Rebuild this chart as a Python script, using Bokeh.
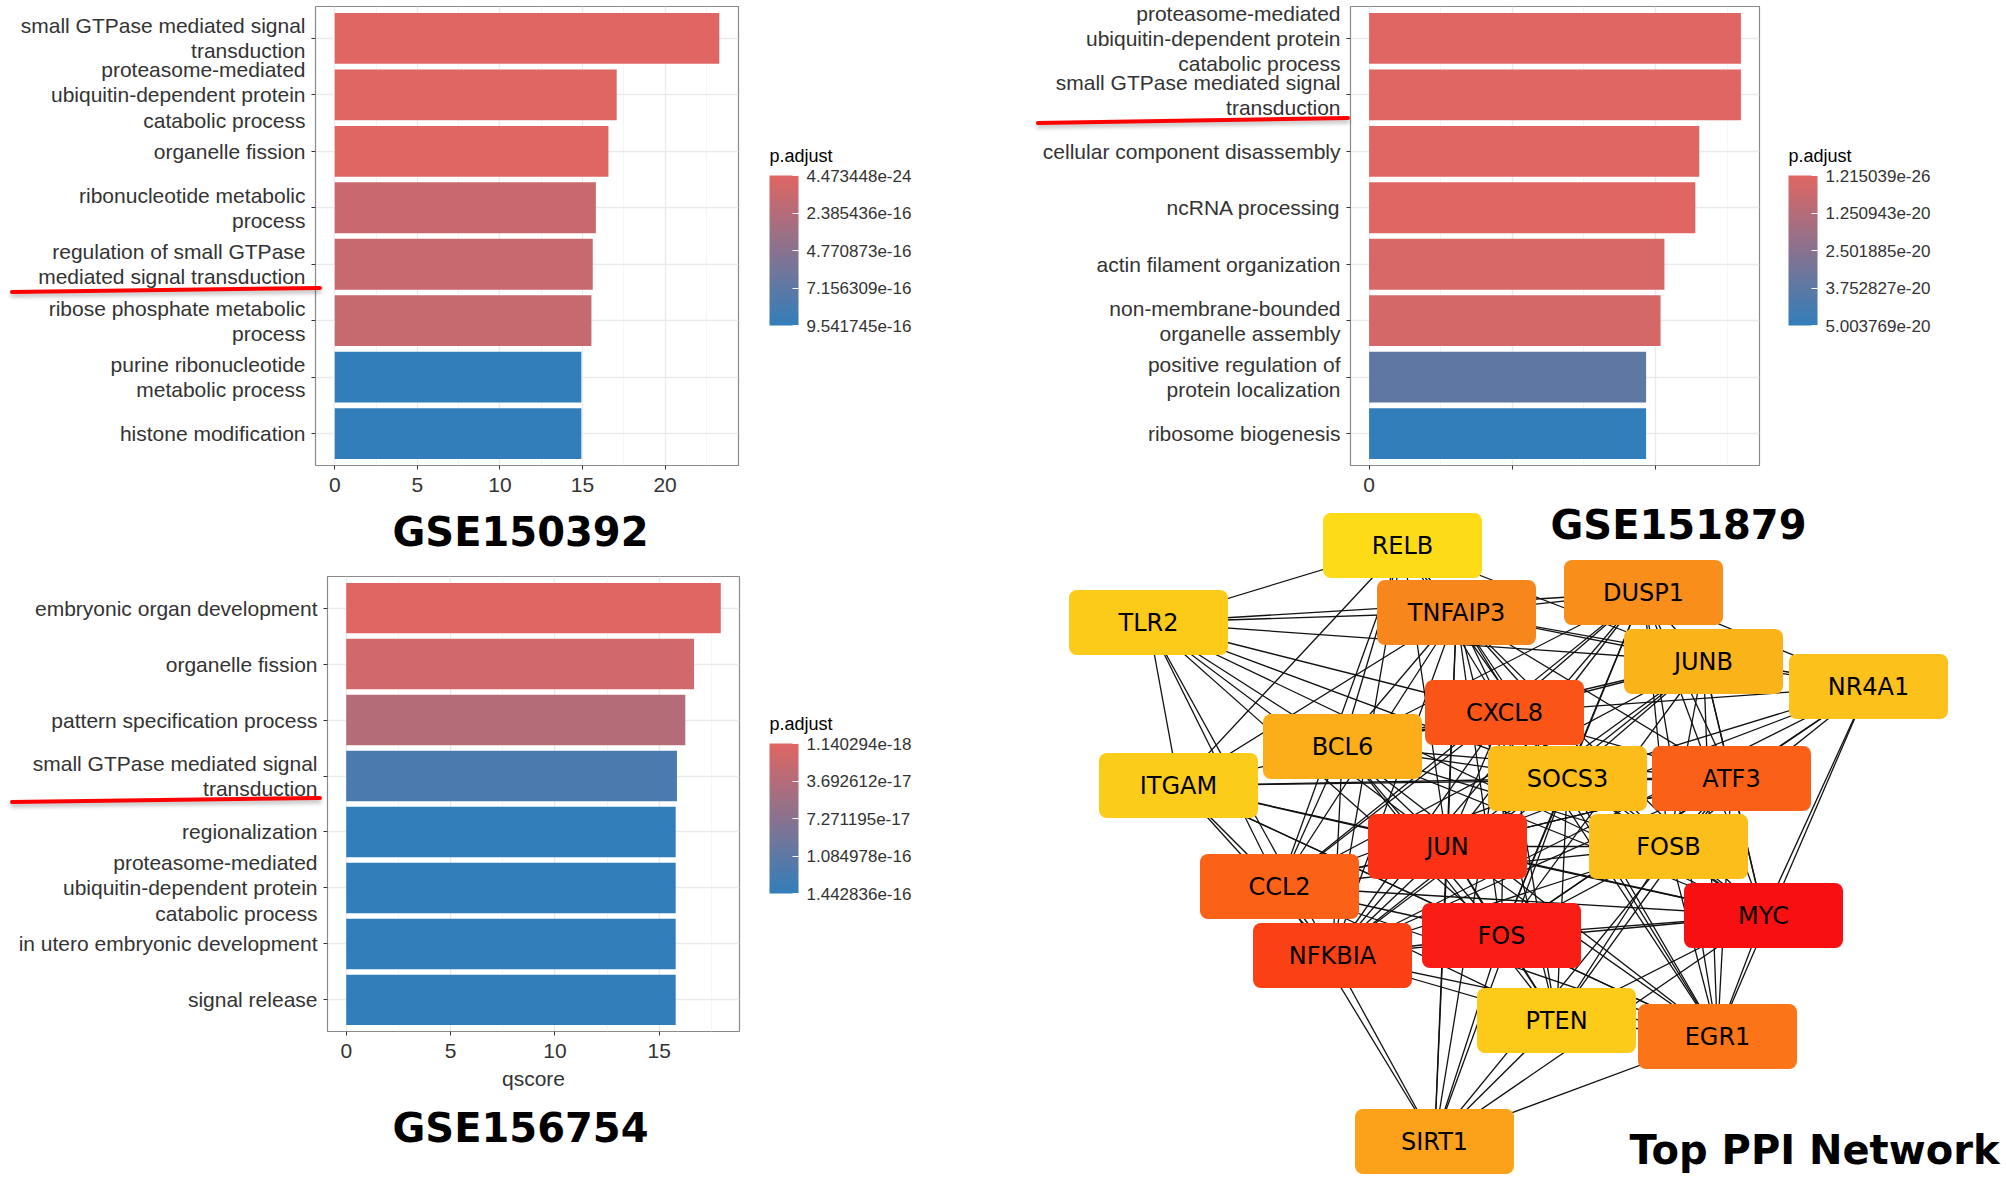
import math
from bokeh.plotting import figure
from bokeh.models import (FactorRange, Range1d, FixedTicker, LinearColorMapper,
                          ColorBar, Title, ColumnDataSource, AllLabels, InlineStyleSheet)
from bokeh.layouts import row, column
from bokeh.transform import transform
from bokeh.core.properties import value
from bokeh.embed import file_html
from bokeh.resources import INLINE

# ---------------- data ----------------
gse150392_terms = [
    "small GTPase mediated signal\ntransduction",
    "proteasome-mediated\nubiquitin-dependent protein\ncatabolic process",
    "organelle fission",
    "ribonucleotide metabolic\nprocess",
    "regulation of small GTPase\nmediated signal transduction",
    "ribose phosphate metabolic\nprocess",
    "purine ribonucleotide\nmetabolic process",
    "histone modification",
]
gse150392_qscore = [23.28, 17.07, 16.57, 15.81, 15.62, 15.54, 14.93, 14.93]
gse150392_padj = [4.473448e-24, 2.0e-20, 5.0e-18, 1.25e-16, 1.35e-16, 1.45e-16,
                  9.541745e-16, 9.541745e-16]
gse150392_legend = ["4.473448e-24", "2.385436e-16", "4.770873e-16",
                    "7.156309e-16", "9.541745e-16"]

gse151879_terms = [
    "proteasome-mediated\nubiquitin-dependent protein\ncatabolic process",
    "small GTPase mediated signal\ntransduction",
    "cellular component disassembly",
    "ncRNA processing",
    "actin filament organization",
    "non-membrane-bounded\norganelle assembly",
    "positive regulation of\nprotein localization",
    "ribosome biogenesis",
]
gse151879_qscore = [25.96, 25.96, 23.05, 22.78, 20.62, 20.35, 19.34, 19.34]
gse151879_padj = [1.215039e-26, 1.0e-24, 5.0e-23, 1.0e-22, 2.5e-21, 3.5e-21,
                  3.7e-20, 5.003769e-20]
gse151879_legend = ["1.215039e-26", "1.250943e-20", "2.501885e-20",
                    "3.752827e-20", "5.003769e-20"]

gse156754_terms = [
    "embryonic organ development",
    "organelle fission",
    "pattern specification process",
    "small GTPase mediated signal\ntransduction",
    "regionalization",
    "proteasome-mediated\nubiquitin-dependent protein\ncatabolic process",
    "in utero embryonic development",
    "signal release",
]
gse156754_qscore = [17.95, 16.67, 16.25, 15.85, 15.79, 15.79, 15.79, 15.79]
gse156754_padj = [1.140294e-18, 1.4e-17, 3.7e-17, 1.24e-16, 1.442836e-16,
                  1.442836e-16, 1.442836e-16, 1.442836e-16]
gse156754_legend = ["1.140294e-18", "3.692612e-17", "7.271195e-17",
                    "1.084978e-16", "1.442836e-16"]

ppi_genes = ["RELB", "TLR2", "TNFAIP3", "DUSP1", "JUNB", "NR4A1", "CXCL8", "BCL6",
             "ITGAM", "SOCS3", "ATF3", "JUN", "FOSB", "CCL2", "MYC", "FOS",
             "NFKBIA", "PTEN", "EGR1", "SIRT1"]
ppi_colors = ["#FDDC17", "#FCCB1A", "#F7871C", "#F98E1A", "#FBB31A", "#FCC11A",
              "#FA5516", "#FBAE1A", "#FCCC1A", "#FCBD1A", "#FB6018", "#FB3215",
              "#FCBE1A", "#FB6218", "#F70F12", "#FA1D15", "#FC4015", "#FCCB1A",
              "#FB7518", "#FCA11A"]
ppi_edges_text = """
RELB-TLR2 RELB-TNFAIP3 RELB-NFKBIA RELB-ITGAM RELB-BCL6 RELB-CXCL8 RELB-JUN RELB-CCL2 RELB-JUNB RELB-SOCS3
TLR2-TNFAIP3 TLR2-DUSP1 TLR2-CXCL8 TLR2-ITGAM TLR2-CCL2 TLR2-NFKBIA TLR2-JUN TLR2-FOS TLR2-SOCS3 TLR2-MYC TLR2-BCL6 TLR2-JUNB
ITGAM-CXCL8 ITGAM-SOCS3 ITGAM-ATF3 ITGAM-JUN ITGAM-FOS ITGAM-CCL2 ITGAM-NFKBIA ITGAM-MYC ITGAM-TNFAIP3 ITGAM-EGR1
TNFAIP3-DUSP1 TNFAIP3-NFKBIA TNFAIP3-CCL2 TNFAIP3-CXCL8 TNFAIP3-JUN TNFAIP3-FOS TNFAIP3-SOCS3 TNFAIP3-ATF3 TNFAIP3-JUNB TNFAIP3-NR4A1 TNFAIP3-EGR1 TNFAIP3-MYC TNFAIP3-BCL6 TNFAIP3-FOSB TNFAIP3-PTEN TNFAIP3-SIRT1
DUSP1-JUNB DUSP1-NR4A1 DUSP1-FOS DUSP1-JUN DUSP1-ATF3 DUSP1-EGR1 DUSP1-MYC DUSP1-CXCL8 DUSP1-SOCS3 DUSP1-FOSB DUSP1-CCL2 DUSP1-NFKBIA DUSP1-BCL6
JUNB-NR4A1 JUNB-FOS JUNB-JUN JUNB-FOSB JUNB-ATF3 JUNB-EGR1 JUNB-MYC JUNB-CXCL8 JUNB-SOCS3 JUNB-CCL2 JUNB-NFKBIA JUNB-BCL6
NR4A1-FOSB NR4A1-ATF3 NR4A1-EGR1 NR4A1-MYC NR4A1-FOS NR4A1-JUN NR4A1-CXCL8 NR4A1-SOCS3 NR4A1-NFKBIA
CXCL8-BCL6 CXCL8-SOCS3 CXCL8-ATF3 CXCL8-JUN CXCL8-FOSB CXCL8-CCL2 CXCL8-MYC CXCL8-FOS CXCL8-NFKBIA CXCL8-PTEN CXCL8-EGR1 CXCL8-SIRT1
BCL6-JUN BCL6-FOS BCL6-MYC BCL6-SOCS3 BCL6-CCL2 BCL6-NFKBIA BCL6-ATF3 BCL6-PTEN BCL6-EGR1 BCL6-FOSB
SOCS3-ATF3 SOCS3-JUN SOCS3-FOSB SOCS3-CCL2 SOCS3-MYC SOCS3-FOS SOCS3-NFKBIA SOCS3-PTEN SOCS3-EGR1 SOCS3-SIRT1
ATF3-JUN ATF3-FOSB ATF3-MYC ATF3-FOS ATF3-CCL2 ATF3-NFKBIA ATF3-EGR1 ATF3-PTEN ATF3-SIRT1
JUN-FOSB JUN-CCL2 JUN-MYC JUN-FOS JUN-NFKBIA JUN-PTEN JUN-EGR1 JUN-SIRT1
FOSB-CCL2 FOSB-MYC FOSB-FOS FOSB-NFKBIA FOSB-EGR1 FOSB-PTEN
CCL2-MYC CCL2-FOS CCL2-NFKBIA CCL2-PTEN CCL2-EGR1 CCL2-SIRT1
MYC-FOS MYC-NFKBIA MYC-PTEN MYC-EGR1 MYC-SIRT1
FOS-NFKBIA FOS-PTEN FOS-EGR1 FOS-SIRT1
NFKBIA-PTEN NFKBIA-EGR1 NFKBIA-SIRT1
PTEN-EGR1 PTEN-SIRT1 EGR1-SIRT1
"""
ppi_edges = [tuple(e.split("-")) for e in ppi_edges_text.split()]

# ---------------- layout / style (not data) ----------------
node_pos = {
    "RELB": (1402, 545), "TLR2": (1148, 622), "TNFAIP3": (1456, 612),
    "DUSP1": (1643, 592), "JUNB": (1703, 661), "NR4A1": (1868, 686),
    "CXCL8": (1504, 712), "BCL6": (1342, 746), "ITGAM": (1178, 785),
    "SOCS3": (1567, 778), "ATF3": (1731, 778), "JUN": (1447, 846),
    "FOSB": (1668, 846), "CCL2": (1279, 886), "MYC": (1763, 915),
    "FOS": (1501, 935), "NFKBIA": (1332, 955), "PTEN": (1556, 1020),
    "EGR1": (1717, 1036), "SIRT1": (1434, 1141),
}
NODE_W, NODE_H = 159, 65

LOW_COLOR, HIGH_COLOR = "#327eba", "#e06663"


def interp_palette(c1, c2, n=256):
    a = [int(c1[i:i + 2], 16) for i in (1, 3, 5)]
    b = [int(c2[i:i + 2], 16) for i in (1, 3, 5)]
    out = []
    for k in range(n):
        t = k / (n - 1)
        out.append("#%02x%02x%02x" % tuple(round(a[j] + (b[j] - a[j]) * t) for j in range(3)))
    return out


PALETTE = interp_palette(LOW_COLOR, HIGH_COLOR)
LABEL_FONT = "Liberation Sans"
TEXT_COL = "#333333"


def underline_css(x0, y0, x1, y1):
    w = math.hypot(x1 - x0, y1 - y0)
    ang = math.degrees(math.atan2(y1 - y0, x1 - x0))
    return InlineStyleSheet(css=(
        ":host { position: relative; }\n"
        ":host::after { content: ''; position: absolute; "
        f"left: {x0}px; top: {y0 - 2}px; width: {w:.1f}px; height: 4px; "
        "background: #ff0000; border-radius: 2px; "
        f"transform: rotate({ang:.3f}deg); transform-origin: 0 50%; "
        "box-shadow: 0 3px 4px rgba(0,0,0,0.28); pointer-events: none; z-index: 10; }"))


def bar_chart(terms, qscore, padj, width, height, borders, ticks, minor,
              hide_labels, xlabel, title, title_offset, title_standoff, tick_standoff,
              underline):
    pmin, pmax = min(padj), max(padj)
    s = [100.0 * (pmax - v) / (pmax - pmin) for v in padj]
    src = ColumnDataSource(dict(term=terms, qscore=qscore, s=s))
    qmax = max(qscore)
    p = figure(width=width, height=height, output_backend="svg", toolbar_location=None,
               y_range=FactorRange(factors=list(reversed(terms)), range_padding=0.016),
               x_range=Range1d(-0.05 * qmax, 1.05 * qmax),
               min_border_left=borders[0], min_border_right=borders[1],
               min_border_top=borders[2], min_border_bottom=borders[3])
    p.frame_align = False
    mapper = LinearColorMapper(palette=PALETTE, low=0, high=100)
    p.hbar(y="term", right="qscore", left=0, height=0.9, source=src,
           fill_color=transform("s", mapper), line_color=None)
    p.background_fill_color = "white"
    p.border_fill_color = "white"
    p.outline_line_color = "#8A8A8A"
    p.outline_line_width = 1.2

    p.xaxis.ticker = FixedTicker(ticks=ticks, minor_ticks=minor)
    if hide_labels:
        p.xaxis.major_label_overrides = {t: "" for t in hide_labels}
    p.xgrid.grid_line_color = "#EBEBEB"
    p.xgrid.grid_line_width = 1.3
    p.xgrid.minor_grid_line_color = "#F2F2F2"
    p.xgrid.minor_grid_line_width = 0.8
    p.ygrid.grid_line_color = "#EBEBEB"
    p.ygrid.grid_line_width = 1.3
    for ax in (p.xaxis[0], p.yaxis[0]):
        ax.axis_line_color = None
        ax.major_tick_line_color = TEXT_COL
        ax.major_tick_out = 4
        ax.major_tick_in = 0
        ax.minor_tick_line_color = None
        ax.major_label_text_font = LABEL_FONT
        ax.major_label_text_font_size = "21px"
        ax.major_label_text_color = TEXT_COL
    p.xaxis.major_label_standoff = tick_standoff
    p.yaxis.major_label_standoff = 6
    p.yaxis.major_label_text_line_height = 1.1
    if xlabel:
        p.xaxis.axis_label = xlabel
        p.xaxis.axis_label_text_font = LABEL_FONT
        p.xaxis.axis_label_text_font_size = "21px"
        p.xaxis.axis_label_text_font_style = "normal"
        p.xaxis.axis_label_text_color = TEXT_COL
        p.xaxis.axis_label_standoff = 6

    if title:
        p.add_layout(Title(text=title, align="left", text_font="DejaVu Sans",
                           text_font_size="40px", text_font_style="bold",
                           text_color="black", offset=title_offset,
                           standoff=title_standoff), "below")
    p.stylesheets = [underline_css(*underline[0], *underline[1])]
    return p, mapper


def legend_fig(mapper, labels, width, height, bar_x, bar_top):
    lf = figure(width=width, height=height, output_backend="svg", toolbar_location=None,
                x_range=Range1d(0, width), y_range=Range1d(height, 0),
                x_axis_location=None, y_axis_location=None,
                min_border=0, min_border_left=0, min_border_right=0,
                min_border_top=0, min_border_bottom=0)
    lf.frame_align = False
    lf.grid.visible = False
    lf.outline_line_color = None
    lf.background_fill_color = "white"
    lf.border_fill_color = "white"
    cb = ColorBar(color_mapper=mapper,
                  ticker=FixedTicker(ticks=[100, 75, 50, 25, 0]),
                  major_label_overrides={100: labels[0], 75: labels[1], 50: labels[2],
                                         25: labels[3], 0: labels[4]},
                  major_label_policy=AllLabels(),
                  width=29, height=150,
                  major_label_text_font=LABEL_FONT, major_label_text_font_size="17px",
                  major_label_text_color=TEXT_COL, label_standoff=8,
                  major_tick_line_color="white", major_tick_in=6, major_tick_out=0,
                  minor_tick_line_color=None,
                  bar_line_color=None, border_line_color=None,
                  background_fill_color=None, background_fill_alpha=0,
                  padding=0, margin=0,
                  location=(bar_x, height - bar_top - 150))
    lf.add_layout(cb, "center")
    lf.text(x=[bar_x], y=[bar_top - 20], text=["p.adjust"], text_align="left",
            text_baseline="middle", text_font=value(LABEL_FONT),
            text_font_size="18px", text_color="black")
    return lf


fig_tl, map_tl = bar_chart(gse150392_terms, gse150392_qscore, gse150392_padj,
                           750, 568, (315, 12, 6, 103),
                           [0, 5, 10, 15, 20], [2.5, 7.5, 12.5, 17.5, 22.5], None, None,
                           "GSE150392", 77, 24, 8, ((10, 292), (322, 288)))
leg_tl = legend_fig(map_tl, gse150392_legend, 258, 568, 19, 175)

fig_bl, map_bl = bar_chart(gse156754_terms, gse156754_qscore, gse156754_padj,
                           750, 610, (327, 11, 8, 147),
                           [0, 5, 10, 15], [2.5, 7.5, 12.5, 17.5], None, "qscore",
                           "GSE156754", 65, 20, 8, ((10, 234), (322, 230)))
leg_bl = legend_fig(map_bl, gse156754_legend, 258, 610, 19, 175)

fig_tr, map_tr = bar_chart(gse151879_terms, gse151879_qscore, gse151879_padj,
                           770, 498, (342, 19, 6, 33),
                           [0, 10, 20], [5, 15, 25], [10, 20], None,
                           "", 0, 0, 8, ((28, 123), (342, 118)))
leg_tr = legend_fig(map_tr, gse151879_legend, 228, 498, 10, 175)

# ---------------- network ----------------
NET_W, NET_H = 998, 680
net = figure(width=NET_W, height=NET_H, output_backend="svg", toolbar_location=None,
             x_range=Range1d(1008, 1008 + NET_W), y_range=Range1d(1178, 1178 - NET_H),
             x_axis_location=None, y_axis_location=None,
             min_border=0, min_border_left=0, min_border_right=0,
             min_border_top=0, min_border_bottom=0)
net.frame_align = False
net.grid.visible = False
net.outline_line_color = None
net.background_fill_color = "white"
net.border_fill_color = "white"

ex0 = [node_pos[a][0] for a, b in ppi_edges]
ey0 = [node_pos[a][1] for a, b in ppi_edges]
ex1 = [node_pos[b][0] for a, b in ppi_edges]
ey1 = [node_pos[b][1] for a, b in ppi_edges]
net.segment(x0=ex0, y0=ey0, x1=ex1, y1=ey1, line_color="#111111", line_width=1.3)

nx = [node_pos[g][0] for g in ppi_genes]
ny = [node_pos[g][1] for g in ppi_genes]
nsrc = ColumnDataSource(dict(
    gene=ppi_genes, x=nx, y=ny, color=ppi_colors,
    left=[x - NODE_W / 2 for x in nx], right=[x + NODE_W / 2 for x in nx],
    top=[y - NODE_H / 2 for y in ny], bottom=[y + NODE_H / 2 for y in ny]))
net.quad(left="left", right="right", top="top", bottom="bottom", source=nsrc,
         fill_color="color", line_color=None, border_radius=8)
net.text(x="x", y="y", text="gene", source=nsrc, text_align="center",
         text_baseline="middle", text_font=value("DejaVu Sans"),
         text_font_size="24px", text_color="black")

net.text(x=[1678], y=[524], text=["GSE151879"], text_align="center",
         text_baseline="middle", text_font=value("DejaVu Sans"),
         text_font_size="40px", text_font_style="bold", text_color="black")
net.text(x=[1999], y=[1149], text=["Top PPI Network"], text_align="right",
         text_baseline="middle", text_font=value("DejaVu Sans"),
         text_font_size="40px", text_font_style="bold", text_color="black")

layout = row(column(row(fig_tl, leg_tl), row(fig_bl, leg_bl)),
             column(row(fig_tr, leg_tr), net))
open("out.html", "w").write(file_html(layout, INLINE))
